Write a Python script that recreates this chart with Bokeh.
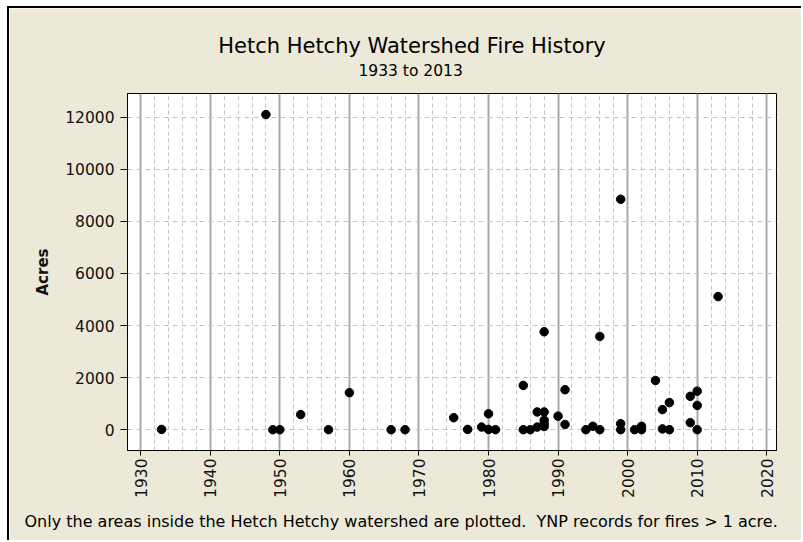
import math
from bokeh.plotting import figure
from bokeh.models import FixedTicker, Title, Range1d, ColumnDataSource
from bokeh.embed import file_html
from bokeh.resources import INLINE

# ---- data ----
years = [1933, 1948, 1949, 1950, 1953, 1957, 1960, 1966, 1968,
         1975, 1977, 1979, 1980, 1980, 1981,
         1985, 1985, 1986, 1987, 1987, 1988, 1988, 1988, 1988, 1988,
         1990, 1991, 1991, 1994, 1995, 1996, 1996,
         1999, 1999, 1999, 2001, 2002, 2002,
         2004, 2005, 2005, 2006, 2006,
         2009, 2009, 2010, 2010, 2010, 2013]
acres = [10, 12100, 0, 0, 580, 0, 1420, 0, 0,
         460, 10, 100, 10, 610, 0,
         1700, 0, 0, 100, 680, 230, 360, 680, 120, 3760,
         520, 1535, 200, 0, 130, 0, 3580,
         230, 0, 8850, 0, 130, 0,
         1890, 770, 30, 1040, 0,
         1280, 270, 1480, 930, 0, 5110]

x_major = [1930, 1940, 1950, 1960, 1970, 1980, 1990, 2000, 2010, 2020]
x_minor = list(range(1930, 2022, 2))
y_major = [0, 2000, 4000, 6000, 8000, 10000, 12000]

title_text = "Hetch Hetchy Watershed Fire History"
subtitle_text = "1933 to 2013"
footer_text = "Only the areas inside the Hetch Hetchy watershed are plotted.\u00a0 YNP records for fires > 1 acre."
y_label = "Acres"

BG = "#ECE9D8"
FONT = "DejaVu Sans"

p = figure(width=794, height=534,
           x_range=Range1d(1928.1, 2021.4), y_range=Range1d(-800, 12910),
           output_backend="svg", toolbar_location=None,
           min_border_left=118, min_border_right=27,
           min_border_top=85, min_border_bottom=92)
p.title.visible = False
p.border_fill_color = BG
p.background_fill_color = "white"
p.outline_line_color = "black"
p.outline_line_width = 1
p.styles = {"margin-left": "7px", "margin-top": "6px",
            "border-left": "2px solid black", "border-top": "2px solid black"}

# axes
p.xaxis.ticker = FixedTicker(ticks=x_major, minor_ticks=x_minor)
p.yaxis.ticker = FixedTicker(ticks=y_major)
for ax in (p.xaxis, p.yaxis):
    ax.axis_line_color = "black"
    ax.major_tick_line_color = "black"
    ax.major_tick_in = 0
    ax.minor_tick_line_color = None
    ax.major_label_text_font = FONT
    ax.major_label_text_font_size = "15.5px"
    ax.major_label_text_color = "#111111"
p.xaxis.major_tick_out = 5
p.yaxis.major_tick_out = 7
p.xaxis.major_label_orientation = math.pi / 2
p.xaxis.major_label_standoff = 3
p.yaxis.major_label_standoff = 6
p.yaxis.axis_label = y_label
p.yaxis.axis_label_text_font = FONT
p.yaxis.axis_label_text_font_style = "bold"
p.yaxis.axis_label_text_font_size = "15px"
p.yaxis.axis_label_text_color = "#111111"
p.yaxis.axis_label_standoff = 10

# grids
p.xgrid.grid_line_color = "#A8A8A8"
p.xgrid.grid_line_width = 2
p.xgrid.minor_grid_line_color = "#C4C4C4"
p.xgrid.minor_grid_line_dash = "4 3"
p.ygrid.grid_line_color = "#C4C4C4"
p.ygrid.grid_line_dash = "5 4"

src = ColumnDataSource(dict(year=years, acres=acres))
p.scatter("year", "acres", source=src, size=8.5, color="black", marker="circle")

# titles (first added sits nearest the frame)
p.add_layout(Title(text=subtitle_text, align="left", offset=231, standoff=28,
                   text_font=FONT, text_font_size="15.5px", text_font_style="normal",
                   text_color="black"), "above")
p.add_layout(Title(text=title_text, align="left", offset=90.7, standoff=-24,
                   text_font=FONT, text_font_size="21px", text_font_style="normal",
                   text_color="black"), "above")
p.add_layout(Title(text=footer_text, align="left", offset=-103, standoff=18,
                   text_font=FONT, text_font_size="16px", text_font_style="normal",
                   text_color="black"), "below")

open("out.html", "w").write(file_html(p, INLINE))
